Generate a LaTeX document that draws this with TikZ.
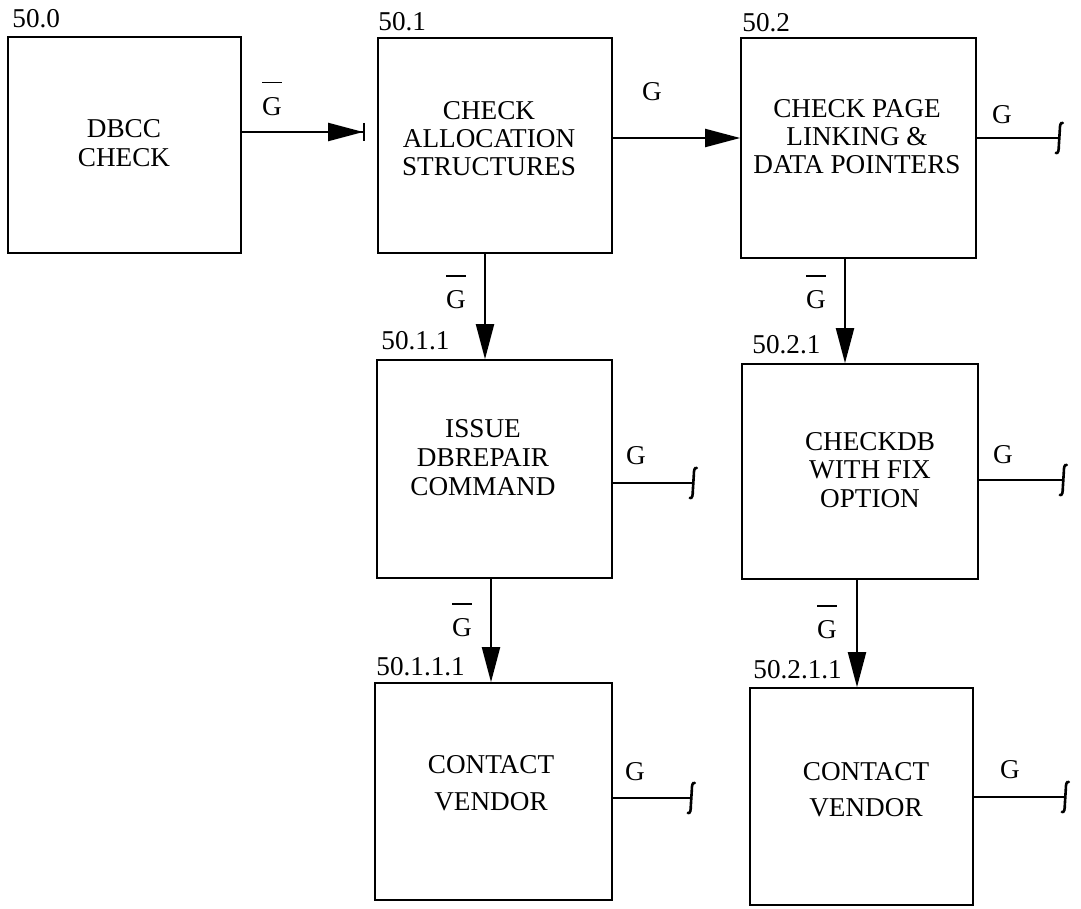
\documentclass[tikz,border=0pt]{standalone}
\usepackage{fontspec}
\setmainfont{Liberation Serif}
\usetikzlibrary{arrows.meta}
\tikzset{
  box/.style={draw, line width=0.8pt, inner sep=0pt},
  txt/.style={align=center, inner sep=0pt, font=\fontsize{13.6}{#1}\selectfont},
  txt/.default=14,
  idtxt/.style={anchor=base west, inner sep=0pt},
  glbl/.style={inner sep=0pt},
  gbar/.style={align=center, inner sep=0pt, font=\fontsize{13.6}{16}\selectfont},
  flow/.style={line width=1pt, -{Triangle[length=17.5pt,width=9pt]}},
  flowbar/.style={line width=1pt, -{Triangle[length=17.5pt,width=9pt]Bar[width=9pt]}},
  exitline/.style={line width=1pt},
  hookend/.pic={\draw[line width=1.3pt, line cap=round] (4,-15) .. controls (1.5,-16) and (1,-12) .. (1,-8) -- (0,8) .. controls (0,12) and (-0.5,16) .. (-3,15);}
}
\newcommand{\Gbar}{\rule{10pt}{0.7pt}\\G}
\begin{document}
\begin{tikzpicture}[x=0.5pt, y=-0.5pt, font=\fontsize{13.6}{16}\selectfont]
  \useasboundingbox (0,0) rectangle (1081,909);

  % boxes
  \node[box, minimum width=116.5pt, minimum height=108pt] (b0) at (124.5,145) {};
  \node[box, minimum width=117pt, minimum height=107.5pt] (b1) at (495,145.5) {};
  \node[box, minimum width=117.5pt, minimum height=110pt] (b2) at (858.5,148) {};
  \node[box, minimum width=117.5pt, minimum height=109pt] (b11) at (494.5,469) {};
  \node[box, minimum width=118pt, minimum height=107.5pt] (b21) at (860,471.5) {};
  \node[box, minimum width=118.5pt, minimum height=108.5pt] (b111) at (493.5,791.5) {};
  \node[box, minimum width=111.5pt, minimum height=108.5pt] (b211) at (861.5,796.5) {};

  % box texts
  \node[txt=14.5] (t0) at (124,143.5) {DBCC\\CHECK};
  \node[txt] (t1) at (489,139) {CHECK\\ALLOCATION\\STRUCTURES};
  \node[txt] (t2) at (857,136.5) {CHECK PAGE\\LINKING \&\\DATA POINTERS};
  \node[txt=14.5] (t11) at (483,458) {ISSUE\\DBREPAIR\\COMMAND};
  \node[txt=14.25] (t21) at (870,470) {CHECKDB\\WITH FIX\\OPTION};
  \node[txt=18.5] (t111) at (491,783.5) {CONTACT\\VENDOR};
  \node[txt=18] (t211) at (866,790) {CONTACT\\VENDOR};

  % numbers
  \node[idtxt] (n0) at (12,28) {50.0};
  \node[idtxt] (n1) at (378,31) {50.1};
  \node[idtxt] (n2) at (742,32) {50.2};
  \node[idtxt] (n11) at (381,349) {50.1.1};
  \node[idtxt] (n21) at (752,353) {50.2.1};
  \node[idtxt] (n111) at (376,675) {50.1.1.1};
  \node[idtxt] (n211) at (753,678) {50.2.1.1};

  % connectors
  \draw[flowbar, shorten >=6pt] ([yshift=6.5pt]b0.east) -- ([yshift=6.5pt]b0.east -| b1.west);
  \draw[flow] ([yshift=3.75pt]b1.east) -- ([yshift=3.75pt]b1.east -| b2.west);
  \draw[flow] ([xshift=-5pt]b1.south) -- ([xshift=-5pt]b1.south |- b11.north);
  \draw[flow] ([xshift=-6.75pt]b2.south) -- ([xshift=-6.75pt]b2.south |- b21.north);
  \draw[flow] ([xshift=-1.75pt]b11.south) -- ([xshift=-1.75pt]b11.south |- b111.north);
  \draw[flow] ([xshift=-1.5pt]b21.south) -- ([xshift=-1.5pt]b21.south |- b211.north);

  \node[gbar] (g01) at (272,98.7) {\Gbar};
  \node[glbl] (g12) at (652,92) {G};
  \node[gbar] (g1d) at (456,292) {\Gbar};
  \node[gbar] (g2d) at (816,292) {\Gbar};
  \node[gbar] (g11d) at (462,620) {\Gbar};
  \node[gbar] (g21d) at (827,622) {\Gbar};

  % exits
  \draw[exitline] ([yshift=5pt]b2.east) -- ++(82,0) coordinate (e2) pic {hookend};
  \draw[exitline] ([yshift=-7pt]b11.east) -- ++(80,0) coordinate (e11) pic {hookend};
  \draw[exitline] ([yshift=-4.25pt]b21.east) -- ++(84,0) coordinate (e21) pic {hookend};
  \draw[exitline] ([yshift=-3.25pt]b111.east) -- ++(78,0) coordinate (e111) pic {hookend};
  \draw[exitline] ([yshift=-0.25pt]b211.east) -- ++(91,0) coordinate (e211) pic {hookend};

  \node[glbl] (g2e) at (1002,114.5) {G};
  \node[glbl] (g11e) at (636,455.5) {G};
  \node[glbl] (g21e) at (1003,455) {G};
  \node[glbl] (g111e) at (635,772) {G};
  \node[glbl] (g211e) at (1010,770) {G};
\end{tikzpicture}
\end{document}
